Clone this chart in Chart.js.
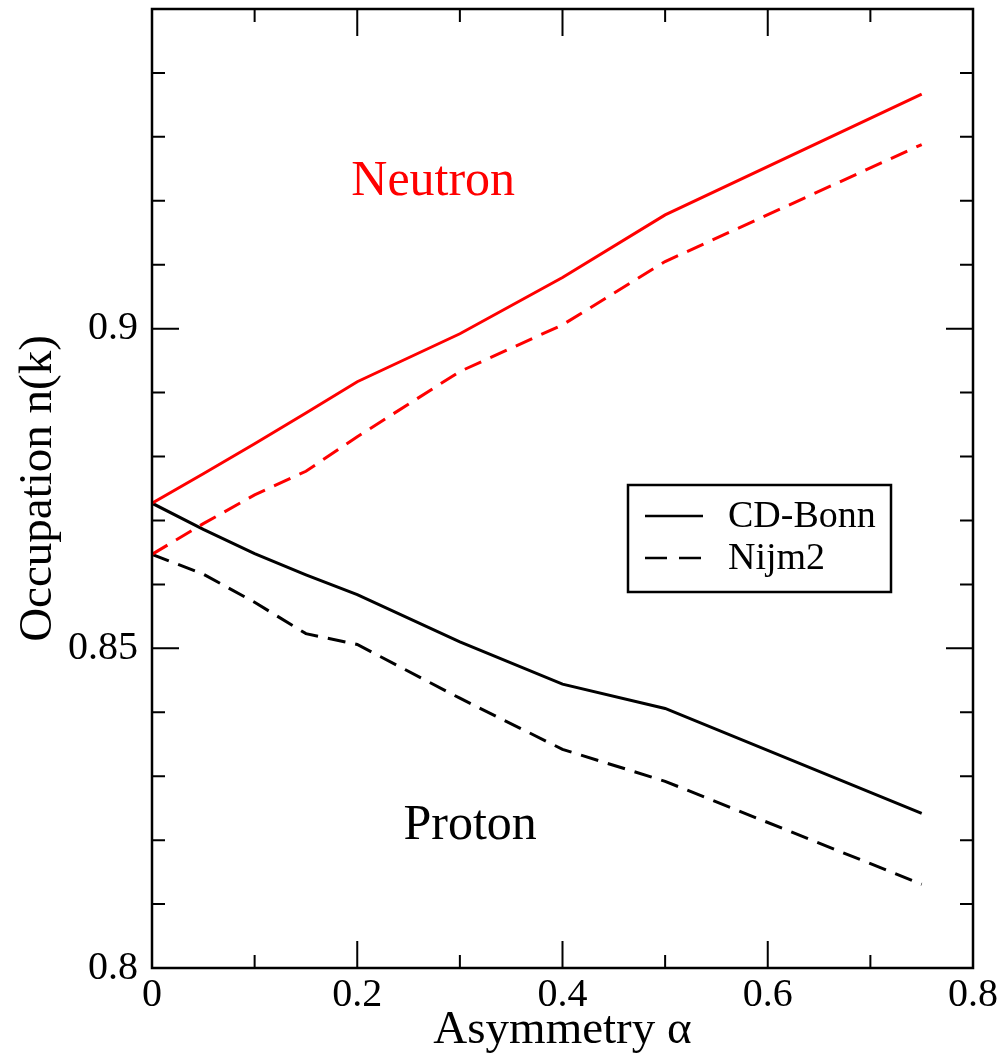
<!DOCTYPE html>
<html>
<head>
<meta charset="utf-8">
<script src="https://cdn.jsdelivr.net/npm/chart.js@4.4.1/dist/chart.umd.min.js"></script>
<style>
  html, body { margin: 0; padding: 0; background: #fff; }
  #chart { display: block; }
</style>
</head>
<body>
<canvas id="chart" width="999" height="1059"></canvas>
<script>
// asymmetry values (x)
const alpha = [0, 0.05, 0.1, 0.15, 0.2, 0.3, 0.4, 0.5, 0.75];

// occupation n(k)
const neutronCDBonn = [0.8727, 0.8773, 0.8820, 0.8868, 0.8917, 0.8992, 0.9080, 0.9178, 0.9367];
const neutronNijm2  = [0.8647, 0.8695, 0.8740, 0.8777, 0.8831, 0.8933, 0.9006, 0.9105, 0.9288];
const protonCDBonn  = [0.8727, 0.8686, 0.8648, 0.8615, 0.8584, 0.8510, 0.8444, 0.8406, 0.8242];
const protonNijm2   = [0.8647, 0.8616, 0.8572, 0.8523, 0.8506, 0.8422, 0.8342, 0.8292, 0.8131];

const legendLabels = ['CD-Bonn', 'Nijm2'];
const annotations = [
    { text: 'Neutron', x: 0.274, y: 0.923, color: '#ff0000' },
    { text: 'Proton', x: 0.31, y: 0.8222, color: '#000000' },
];

const serif = '"Liberation Serif", "DejaVu Serif", serif';
const dash = [18, 10];

const toPoints = ys => ys.map((y, i) => ({ x: alpha[i], y: y }));

// pin the plot box so it sits where the original one does
const pinBox = (w, h) => s => {
    s.paddingTop = 0; s.paddingBottom = 0; s.paddingLeft = 0; s.paddingRight = 0;
    if (w) s.width = w;
    if (h) s.height = h;
};

// inward ticks on all four sides plus the frame
const frameTicks = {
    id: 'frameTicks',
    afterDraw(chart) {
        const { ctx, chartArea: a, scales } = chart;
        ctx.save();
        ctx.strokeStyle = '#000';
        ctx.lineWidth = 2.5;
        ctx.strokeRect(a.left, a.top, a.right - a.left, a.bottom - a.top);
        ctx.lineWidth = 2;
        scales.x.ticks.forEach(t => {
            const px = scales.x.getPixelForValue(t.value);
            const major = Math.round(t.value * 10) % 2 === 0;
            const len = major ? 27 : 13;
            ctx.beginPath();
            ctx.moveTo(px, a.bottom); ctx.lineTo(px, a.bottom - len);
            ctx.moveTo(px, a.top); ctx.lineTo(px, a.top + len);
            ctx.stroke();
        });
        scales.y.ticks.forEach(t => {
            const py = scales.y.getPixelForValue(t.value);
            const major = Math.round(t.value * 100) % 5 === 0;
            const len = major ? 27 : 13;
            ctx.beginPath();
            ctx.moveTo(a.left, py); ctx.lineTo(a.left + len, py);
            ctx.moveTo(a.right, py); ctx.lineTo(a.right - len, py);
            ctx.stroke();
        });
        ctx.restore();
    }
};

// legend box and the Neutron / Proton labels
const extras = {
    id: 'extras',
    afterDatasetsDraw(chart) {
        const { ctx, scales } = chart;
        ctx.save();
        ctx.font = '50px ' + serif;
        ctx.textAlign = 'center';
        ctx.textBaseline = 'middle';
        annotations.forEach(an => {
            ctx.fillStyle = an.color;
            ctx.fillText(an.text, scales.x.getPixelForValue(an.x), scales.y.getPixelForValue(an.y));
        });

        ctx.fillStyle = '#fff';
        ctx.fillRect(628, 485, 263, 107);
        ctx.strokeStyle = '#000';
        ctx.lineWidth = 2.5;
        ctx.strokeRect(628, 485, 263, 107);

        ctx.lineWidth = 2.5;
        ctx.beginPath();
        ctx.moveTo(645, 516); ctx.lineTo(703, 516);
        ctx.stroke();
        ctx.setLineDash([22, 12]);
        ctx.beginPath();
        ctx.moveTo(645, 558); ctx.lineTo(701, 558);
        ctx.stroke();
        ctx.setLineDash([]);

        ctx.fillStyle = '#000';
        ctx.font = '38px ' + serif;
        ctx.textAlign = 'left';
        ctx.fillText(legendLabels[0], 728, 517);
        ctx.fillText(legendLabels[1], 728, 559);
        ctx.restore();
    }
};

new Chart(document.getElementById('chart'), {
    type: 'line',
    data: {
        datasets: [
            { label: 'Neutron CD-Bonn', data: toPoints(neutronCDBonn), borderColor: '#ff0000', borderWidth: 3 },
            { label: 'Neutron Nijm2', data: toPoints(neutronNijm2), borderColor: '#ff0000', borderWidth: 3, borderDash: dash },
            { label: 'Proton CD-Bonn', data: toPoints(protonCDBonn), borderColor: '#000000', borderWidth: 3 },
            { label: 'Proton Nijm2', data: toPoints(protonNijm2), borderColor: '#000000', borderWidth: 3, borderDash: dash },
        ]
    },
    options: {
        responsive: false,
        animation: false,
        elements: { point: { radius: 0 }, line: { tension: 0 } },
        layout: { padding: { top: 9, right: 26, left: 0, bottom: 0 } },
        plugins: {
            legend: { display: false },
            tooltip: { enabled: false },
        },
        scales: {
            x: {
                type: 'linear',
                min: 0,
                max: 0.8,
                afterFit: pinBox(0, 91),
                grid: { display: false, drawTicks: false },
                border: { display: false },
                ticks: {
                    stepSize: 0.1,
                    maxRotation: 0,
                    padding: 3,
                    color: '#000',
                    font: { family: serif, size: 40 },
                    callback: v => Math.round(v * 10) % 2 === 0 ? String(Math.round(v * 10) / 10) : ''
                },
                title: {
                    display: true,
                    text: 'Asymmetry α',
                    color: '#000',
                    font: { family: serif, size: 47 },
                    padding: { top: 0, bottom: 0 }
                }
            },
            y: {
                type: 'linear',
                min: 0.8,
                max: 0.95,
                afterFit: pinBox(152, 0),
                grid: { display: false, drawTicks: false },
                border: { display: false },
                ticks: {
                    stepSize: 0.01,
                    padding: 14,
                    color: '#000',
                    font: { family: serif, size: 40 },
                    callback: v => {
                        const k = Math.round(v * 100);
                        return (k % 5 === 0 && k < 95) ? String(k / 100) : '';
                    }
                },
                title: {
                    display: true,
                    text: 'Occupation n(k)',
                    color: '#000',
                    font: { family: serif, size: 47 },
                    padding: { top: 10, bottom: 0 }
                }
            }
        }
    },
    plugins: [frameTicks, extras]
});
</script>
</body>
</html>
